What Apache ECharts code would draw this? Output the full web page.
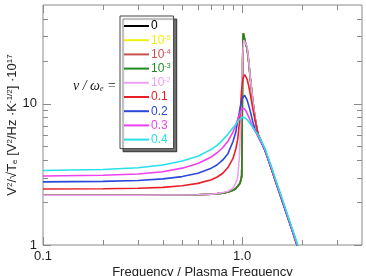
<!DOCTYPE html>
<html>
<head>
<meta charset="utf-8">
<script src="https://cdn.jsdelivr.net/npm/echarts@6/dist/echarts.min.js"></script>
<style>
html, body { margin: 0; padding: 0; background: #fff; }
#chart { width: 366px; height: 276px; }
</style>
</head>
<body>
<div id="chart"></div>
<script>
// frequency / plasma frequency (shared by every curve)
const freq = [0.1, 0.2, 0.3, 0.4, 0.5, 0.6, 0.7, 0.75, 0.8, 0.85, 0.9, 0.93, 0.95, 0.97, 0.98, 0.99,
	0.995, 1.0, 1.005, 1.01, 1.015, 1.02, 1.03, 1.04, 1.06, 1.08, 1.1, 1.13, 1.16, 1.2, 1.25,
	1.3, 1.4, 1.5, 1.6, 1.7, 1.8, 1.9, 2.0];

// nu/omega_e = 0 ... 1e-3 : these four curves sit on top of each other
const vLow = [2.25, 2.25, 2.25, 2.26, 2.26, 2.27, 2.29, 2.31, 2.33, 2.37, 2.44, 2.51, 2.58, 2.70, 2.80, 2.95,
	3.1, 5.5, 18, 29, 31.5, 30.5, 28.5, 27, 24.5, 19.5, 15, 10.7, 8.0, 6.1, 5.35,
	4.72, 3.5, 2.62, 2.0, 1.55, 1.22, 0.97, 0.78];
const v1e2 = [2.25, 2.25, 2.25, 2.26, 2.26, 2.27, 2.29, 2.32, 2.35, 2.40, 2.52, 2.75, 3.0, 4.3, 6.5, 10,
	13, 16.5, 20, 23.5, 26, 28.2, 28.6, 28, 25.5, 20, 15.2, 10.8, 8.0, 6.05, 5.33,
	4.72, 3.5, 2.62, 2.0, 1.55, 1.22, 0.97, 0.78];
const v01 = [2.49, 2.50, 2.52, 2.56, 2.63, 2.73, 2.90, 3.03, 3.22, 3.55, 4.1, 4.8, 5.6, 7.4, 9.1, 11.3,
	12.5, 13.5, 14.4, 15.0, 15.5, 15.8, 16.1, 16.0, 14.9, 13.3, 11.6, 9.3, 7.7, 6.2, 5.35,
	4.72, 3.5, 2.62, 2.0, 1.55, 1.22, 0.97, 0.78];
const v02 = [2.80, 2.82, 2.86, 2.94, 3.05, 3.22, 3.5, 3.7, 4.0, 4.45, 5.4, 6.3, 7.6, 8.8, 9.5, 10.1,
	10.5, 10.8, 11.05, 11.25, 11.4, 11.45, 11.45, 11.3, 10.6, 9.7, 8.8, 7.5, 6.6, 5.9, 5.28,
	4.72, 3.52, 2.63, 2.01, 1.56, 1.23, 0.98, 0.79];
const v03 = [3.08, 3.12, 3.18, 3.3, 3.5, 3.78, 4.2, 4.5, 4.9, 5.45, 6.3, 7.1, 7.7, 8.4, 8.75, 9.0,
	9.15, 9.25, 9.3, 9.33, 9.33, 9.3, 9.2, 9.0, 8.55, 8.05, 7.55, 6.9, 6.4, 5.95, 5.3,
	4.76, 3.55, 2.65, 2.03, 1.57, 1.24, 0.99, 0.8];
const v04 = [3.37, 3.42, 3.52, 3.68, 3.93, 4.25, 4.75, 5.1, 5.55, 6.1, 6.75, 7.15, 7.45, 7.75, 7.85, 7.95,
	8.0, 8.02, 8.04, 8.05, 8.05, 8.03, 7.98, 7.9, 7.7, 7.45, 7.2, 6.8, 6.45, 6.05, 5.45,
	4.85, 3.62, 2.7, 2.07, 1.6, 1.26, 1.01, 0.82];

const curveNames = ['0', '1e-5', '1e-4', '1e-3', '1e-2', '0.1', '0.2', '0.3', '0.4'];
const curveLabels = ['0', '10{s|-5}', '10{s|-4}', '10{s|-3}', '10{s|-2}', '0.1', '0.2', '0.3', '0.4'];
const curveColors = ['#000000', '#f0f010', '#c85050', '#1f8a1f', '#f0a0f0', '#e82028', '#2b48d8', '#f040f0', '#28e0e8'];
const curveValues = [vLow, vLow, vLow, vLow, v1e2, v01, v02, v03, v04];

// tick marks
const xMajorTicks = [0.1, 1];
const xMinorTicks = [0.2, 0.3, 0.4, 0.5, 0.6, 0.7, 0.8, 0.9, 2, 3];
const yMajorTicks = [1, 10];
const yMinorTicks = [2, 3, 4, 5, 6, 7, 8, 9, 20, 30, 40];

const FONT = 'Liberation Sans, Arial, sans-serif';

(function () {
	let myChart = echarts.init(document.getElementById('chart'));

	// [x, y, kind(0 = x tick, 1 = y tick), major]
	let tickData = [];
	xMajorTicks.forEach(v => tickData.push([v, 2, 0, 1]));
	xMinorTicks.forEach(v => tickData.push([v, 2, 0, 0]));
	yMajorTicks.forEach(v => tickData.push([0.5, v, 1, 1]));
	yMinorTicks.forEach(v => tickData.push([0.5, v, 1, 0]));

	function renderTick(params, api) {
		const cs = params.coordSys;
		const len = api.value(3) ? 8 : 5;
		const style = { stroke: '#8a8a8a', lineWidth: 1 };
		if (api.value(2) === 0) {
			const x = Math.round(api.coord([api.value(0), 2])[0]) + 0.5;
			return {
				type: 'group', children: [
					{ type: 'line', shape: { x1: x, y1: cs.y + cs.height, x2: x, y2: cs.y + cs.height - len }, style: style },
					{ type: 'line', shape: { x1: x, y1: cs.y, x2: x, y2: cs.y + len }, style: style }
				]
			};
		}
		const y = Math.round(api.coord([0.5, api.value(1)])[1]) + 0.5;
		return {
			type: 'group', children: [
				{ type: 'line', shape: { x1: cs.x, y1: y, x2: cs.x + len, y2: y }, style: style },
				{ type: 'line', shape: { x1: cs.x + cs.width, y1: y, x2: cs.x + cs.width - len, y2: y }, style: style }
			]
		};
	}

	let series = curveNames.map((name, i) => ({
		name: name,
		type: 'line',
		symbol: 'none',
		smooth: false,
		lineStyle: { color: curveColors[i], width: 1.6 },
		itemStyle: { color: curveColors[i] },
		data: freq.map((f, k) => [f, curveValues[i][k]])
	}));
	series.unshift({
		type: 'custom',
		renderItem: renderTick,
		data: tickData,
		silent: true,
		z: 1
	});

	const option = {
		animation: false,
		backgroundColor: '#fff',
		grid: {
			left: 43, right: 4, top: 5, bottom: 31,
			containLabel: false,
			outerBoundsMode: 'none',
			show: true, borderColor: '#8a8a8a', borderWidth: 1
		},
		xAxis: {
			type: 'log',
			logBase: 10,
			min: 0.1,
			max: 4,
			name: 'Frequency / Plasma Frequency',
			nameLocation: 'middle',
			nameGap: 21,
			nameMoveOverlap: false,
			nameTextStyle: { fontFamily: FONT, fontSize: 13, color: '#222' },
			axisLine: { show: false },
			axisTick: { show: false },
			splitLine: { show: false },
			axisLabel: {
				fontFamily: FONT, fontSize: 13, color: '#222', margin: 5,
				alignMinLabel: 'center',
				formatter: v => (v < 1.5 ? v.toFixed(1) : '')
			}
		},
		yAxis: {
			type: 'log',
			logBase: 10,
			min: 1,
			max: 50,
			name: 'V{sup|2}/√T{sub|e} [V{sup|2}/Hz ·K{sup|-1/2}] ·10{sup|17}',
			nameLocation: 'middle',
			nameRotate: 90,
			nameGap: 24,
			nameMoveOverlap: false,
			nameTextStyle: {
				fontFamily: FONT, fontSize: 13, color: '#222',
				rich: {
					sup: { fontFamily: FONT, fontSize: 8, color: '#222', verticalAlign: 'top' },
					sub: { fontFamily: FONT, fontSize: 8, color: '#222', verticalAlign: 'bottom' }
				}
			},
			axisLine: { show: false },
			axisTick: { show: false },
			splitLine: { show: false },
			axisLabel: {
				fontFamily: FONT, fontSize: 13, color: '#222', margin: 6,
				verticalAlignMinLabel: 'middle',
				formatter: v => (Math.abs(v - 1) < 1e-6 || Math.abs(v - 10) < 1e-6) ? String(Math.round(v)) : ''
			}
		},
		legend: {
			orient: 'vertical',
			left: 120,
			top: 16,
			selectedMode: false,
			itemWidth: 25,
			itemHeight: 12,
			itemGap: 2.2,
			itemStyle: { opacity: 0 },
			lineStyle: { width: 2 },
			padding: [4, 3, 3, 3],
			backgroundColor: '#fff',
			borderColor: '#444',
			borderWidth: 1,
			shadowColor: 'rgba(0,0,0,0.55)',
			shadowOffsetX: 3,
			shadowOffsetY: 3,
			shadowBlur: 1,
			textStyle: { fontFamily: FONT, fontSize: 12, padding: [0, 0, 0, -3] },
			formatter: name => curveLabels[curveNames.indexOf(name)],
			data: curveNames.map((n, i) => ({
				name: n,
				textStyle: {
					color: curveColors[i],
					rich: { s: { color: curveColors[i], fontFamily: FONT, fontSize: 7, verticalAlign: 'top' } }
				}
			}))
		},
		graphic: [{
			type: 'text',
			left: 73,
			top: 79,
			style: {
				text: 'ν / ω{e|e} =',
				fontFamily: 'Liberation Serif, serif',
				fontStyle: 'italic',
				fontSize: 14,
				fill: '#222',
				rich: { e: { fontFamily: 'Liberation Serif, serif', fontStyle: 'italic', fontSize: 8, verticalAlign: 'bottom' } }
			}
		}],
		series: series
	};
	myChart.setOption(option);
	window.addEventListener('resize', function () {
		myChart.resize();
	});
})();
</script>
</body>
</html>
